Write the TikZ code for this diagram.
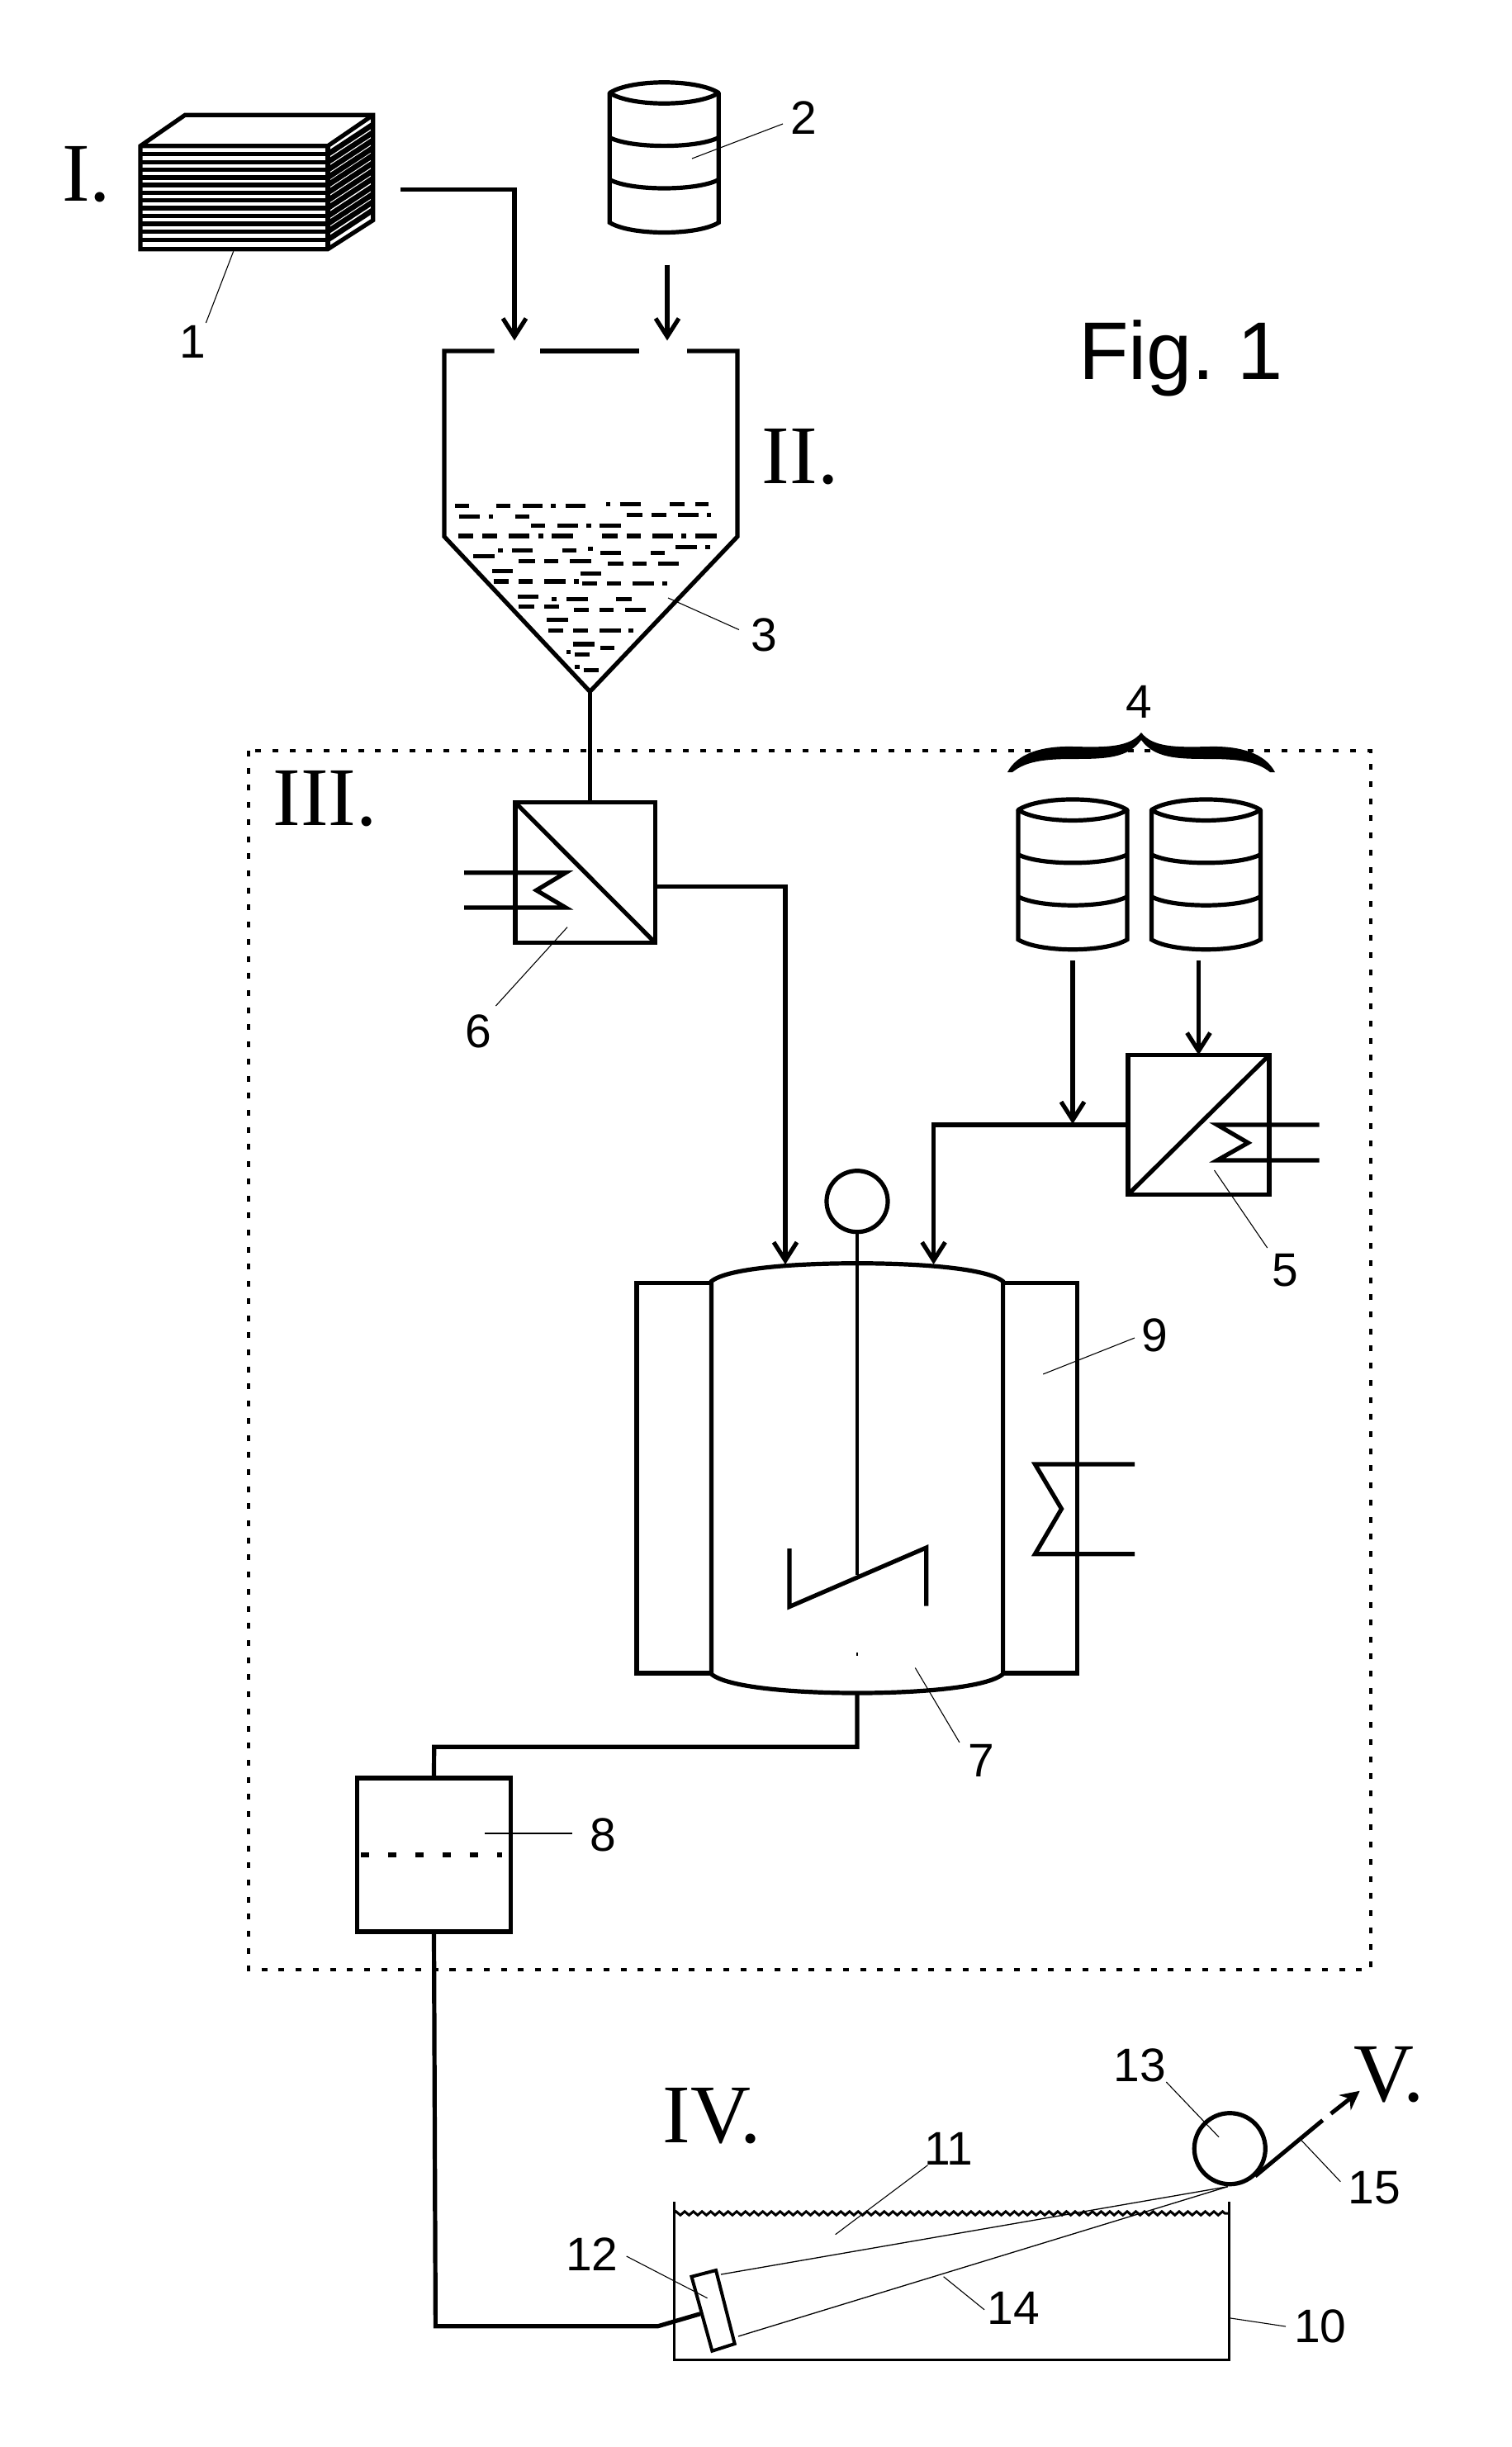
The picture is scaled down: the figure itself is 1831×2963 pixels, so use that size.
\documentclass[tikz,border=0pt]{standalone}
\usepackage{fontspec}
\setmainfont{Liberation Serif}
\setsansfont{Liberation Sans}
\usepackage{tikz}
\usetikzlibrary{arrows.meta}
\usetikzlibrary{decorations.pathmorphing}
\tikzset{
  pipe/.style={line width=0.052cm},
  flow/.style={pipe,-{Straight Barb[length=2.2mm,width=2.8mm]}},
  unitbox/.style={draw,pipe,rectangle,inner sep=0pt,outer sep=0pt},
  leader/.style={line width=0.011cm},
  thinline/.style={line width=0.03cm},
  numtext/.style={font=\sffamily\fontsize{16.2}{18}\selectfont,inner sep=0pt},
  steptext/.style={font=\rmfamily\fontsize{28.7}{30}\selectfont,inner sep=0pt},
  barrel/.pic={
    \draw[pipe,line join=round] (-66,0) .. controls (-40,-17) and (40,-17) .. (66,0) .. controls (40,17) and (-40,17) .. (-66,0) -- cycle;
    \draw[pipe] (-66,0) -- (-66,157) .. controls (-40,173) and (40,173) .. (66,157) -- (66,0);
    \draw[pipe] (-66,54) .. controls (-40,67.5) and (40,67.5) .. (66,54);
    \draw[pipe] (-66,105) .. controls (-40,119) and (40,119) .. (66,105);
  }
}
\begin{document}
\begin{tikzpicture}[x=0.01cm,y=-0.01cm]
\useasboundingbox (0,0) rectangle (1831,2963);

\draw[line width=0.04cm,dash pattern=on 0.07cm off 0.137cm] (301.4,909) rectangle (1660,2385);

% stack
\draw[pipe,line join=miter] (170,176.7) -- (224,139.3) -- (451.7,139.3) -- (451.7,266.7) -- (397,301.7) -- (170,301.7) -- cycle;
\draw[pipe] (170,176.7) -- (397,176.7) -- (451.7,139.3);
\draw[pipe] (397,176.7) -- (397,301.7);
\begin{scope}
\clip (397,176.7) -- (451.7,139.3) -- (451.7,266.7) -- (397,301.7) -- cycle;
\foreach \y in {186.7,196.3,205.7,215,224,233.3,242.7,252,261.7,271,280.3,290.3}
  \draw[line width=0.065cm] (397,\y) -- (451.7,\y-36);
\end{scope}
\foreach \y in {186.7,196.3,205.7,215,224,233.3,242.7,252,261.7,271,280.3,290.3}
  \draw[line width=0.055cm] (170,\y) -- (397,\y);

\pic at (804.3,112.5) {barrel};
\pic at (1299,980.7) {barrel};
\pic at (1460.4,980.7) {barrel};

% hopper
\coordinate (apex) at (714.4,837.4);
\draw[pipe] (598.5,425) -- (538,425) -- (538,649.7) -- (apex) -- (893,649.7) -- (893,425) -- (832,425);
\draw[pipe] (654,425) -- (773.5,425);
\begin{scope}[shift={(60,90)},xscale=0.574,yscale=0.51,line width=0.052cm]
\foreach \yy/\xa/\xb in {
  1024/855/885,1024/942/972,1024/998/1040,1024/1058/1068,1024/1088/1130,
  1020/1175/1183,1020/1203/1247,1020/1308/1340,1020/1362/1390,
  1050/864/908,1050/926/936,1050/982/1012,
  1046/1218/1250,1046/1270/1302,1046/1326/1370,1046/1387/1396,
  1071/1016/1045,1071/1071/1115,1071/1132/1142,1071/1160/1206,
  1096/862/894,1096/913/944,1096/969/1013,1096/1031/1041,1096/1059/1105,
  1096/1166/1198,1096/1218/1248,1096/1272/1316,1096/1333/1343,1096/1362/1408,
  1130/975/1019,1130/946/956,1130/1081/1112,1126/1136/1146,1144/894/939,
  1136/1162/1206,1136/1268/1298,1122/1321/1365,1122/1384/1394,
  1156/990/1024,1156/1044/1074,1156/1098/1142,
  1161/1178/1210,1161/1230/1260,1161/1284/1328,
  1180/934/977,1185/1120/1164,
  1204/937/969,1204/990/1019,1204/1044/1088,1204/1106/1116,
  1209/1124/1155,1209/1176/1206,1209/1230/1276,1209/1293/1303,
  1240/988/1031,1246/1060/1070,1246/1091/1136,1246/1195/1228,
  1264/990/1023,1264/1044/1075,1271/1106/1138,1271/1160/1190,1271/1214/1258,
  1295/1049/1094,1320/1052/1084,1320/1105/1136,1320/1160/1205,1320/1221/1232,
  1353/1104/1150,1361/1162/1192,1371/1091/1100,1377/1108/1139,
  1407/1108/1118,1414/1127/1159}
  \draw (\xa,\yy) -- (\xb,\yy);
\end{scope}

\coordinate (stackout) at (484.8,229.3);
\coordinate (barrelout) at (808,320.6);
\draw[flow] (stackout) -| (623,412.4);
\draw[flow] (barrelout) -- (808,412.4);

% heaters
\node[unitbox,minimum width=1.696cm,minimum height=1.70cm] (unit6) at (708.8,1056.7) {};
\node[unitbox,minimum width=1.71cm,minimum height=1.69cm] (unit5) at (1451.5,1362) {};
\node[unitbox,minimum width=1.856cm,minimum height=1.86cm] (unit8) at (525.5,2246) {};
\draw[pipe] (unit6.north west) -- (unit6.south east);
\draw[pipe] (unit5.south west) -- (unit5.north east);
\draw[pipe] (apex) -- (apex |- unit6.north);
\draw[pipe,line join=miter] (562,1056.7) -- (685,1056.7) -- (649.6,1078) -- (685,1099) -- (562,1099);
\draw[pipe,line join=miter] (1597.5,1362) -- (1474,1362) -- (1511.4,1383.8) -- (1474,1405) -- (1597.5,1405);

\coordinate (feed1) at (1299,1163);
\coordinate (feed2) at (1451.5,1163);
\draw[flow] (feed1) -- (1299,1361);
\draw[flow] (feed2) -- (unit5.north);

% reactor
\coordinate (top6) at (951,1531);
\coordinate (top5) at (1130.6,1531);
\coordinate (bottom) at (1038,2050);
\draw[pipe] (771,1553.7) rectangle (861.4,2026);
\draw[pipe] (1214.6,1553.7) rectangle (1304.7,2026);
\draw[pipe,fill=white] (861.4,1551.6) .. controls (880,1536) and (960,1529.7) .. (1038,1529.7) .. controls (1116,1529.7) and (1196,1536) .. (1214.6,1551.6) -- (1214.6,2027) .. controls (1196,2043) and (1116,2050) .. (bottom) .. controls (960,2050) and (880,2043) .. (861.4,2027) -- cycle;
\draw[flow] ([yshift=-0.166cm]unit6.east) -| (top6);
\draw[flow] (unit5.west) -| (top5);
\node[draw,pipe,circle,inner sep=0pt,minimum size=0.74cm] (motor) at (1038,1454.7) {};
\draw[line width=0.04cm] (motor.south) -- (1038,1907);
\draw[pipe,line join=miter] (956,1875) -- (956,1945.5) -- (1121.7,1874) -- (1121.7,1944.5);
\draw[line width=0.015cm] (1038,2001) -- (1038,2005);
\draw[pipe,line join=miter] (1374,1773) -- (1253.4,1773) -- (1285.5,1827) -- (1253.4,1881.7) -- (1374,1881.7);

% separator
\draw[pipe] (bottom) |- (525.7,2115.3) -- (unit8.north);
\draw[line width=0.06cm,dash pattern=on 0.1cm off 0.23cm] (437,2245.7) -- (608,2245.7);

% bath
\coordinate (nozzlein) at (848,2801.7);
\draw[pipe,line join=miter] (unit8.south) -- (527.4,2816.7) -- (796.8,2816.7) -- (nozzlein);
\draw[thinline] (816,2666) -- (816,2857.7) -- (1488.3,2857.7) -- (1488.3,2666);
\draw[thinline,decorate,decoration={zigzag,segment length=1.05mm,amplitude=0.22mm}] (816,2680) -- (1488.3,2680);
\node[draw,pipe,circle,inner sep=0pt,minimum size=0.86cm] (roll) at (1489.3,2601.7) {};
\coordinate (nip) at (1486.7,2647.7);
\draw[line width=0.013cm] (nip) -- (873,2754);
\draw[line width=0.013cm] (nip) -- (894,2829);
\draw[line width=0.04cm,line join=miter,fill=white] (837.5,2756.7) -- (867,2749) -- (889.7,2838) -- (862.4,2846.7) -- cycle;
\draw[line width=0.05cm] (1520,2635) -- (1601.7,2567.3);
\draw[line width=0.05cm,-{Stealth[length=2.3mm,width=2.3mm]}] (1611.7,2559.3) -- (1646.7,2531.7);

% brace
\fill (1220,935) .. controls (1232,912) and (1262,903) .. (1300,904) .. controls (1340,905) and (1368,905) .. (1382,887) .. controls (1396,905) and (1424,905) .. (1464,904) .. controls (1502,903) and (1532,912) .. (1544,935) -- (1538,935) .. controls (1522,922) and (1500,919) .. (1464,919) .. controls (1425,919) and (1398,918) .. (1382,896) .. controls (1366,918) and (1339,919) .. (1300,919) .. controls (1264,919) and (1242,922) .. (1226,935) -- cycle;

\foreach \num/\x/\y/\ax/\ay/\bx/\by in {
  1/233.4/414/282.7/304.3/249.4/391,
  2/973/143/838/192/948/150,
  3/925/768.6/809/724/895/762.5,
  5/1556.5/1538/1470.5/1417/1534.7/1511,
  6/579.3/1249/687/1122.7/600.4/1218,
  7/1188.7/2131.7/1108.3/2019.5/1161.9/2109.8,
  8/730/2221.7/587.3/2220/692.7/2220,
  9/1398.5/1616.4/1263.2/1663.9/1374/1620,
  10/1598.7/2817/1488.4/2806.7/1557/2817,
  11/1149/2601.7/1123.5/2621.7/1011.6/2705.7,
  12/717/2729.3/758.7/2732/856.6/2782.7,
  13/1380/2500.7/1412.3/2521/1476/2587.7,
  14/1227/2795/1142.6/2756.7/1192/2796.7,
  15/1664/2649.3/1576/2591.7/1623.3/2641.7} {
  \node[numtext] (num\num) at (\x,\y) {\num};
  \coordinate (lead\num a) at (\ax,\ay);
  \coordinate (lead\num b) at (\bx,\by);
  \draw[leader] (lead\num a) -- (lead\num b);
}
\node[numtext] (num4) at (1379.4,849.6) {4};

\node[steptext] (stepI) at (104.8,211.4) {I.};
\node[steptext] (stepII) at (969,553) {II.};
\node[steptext] (stepIII) at (393.6,966.7) {III.};
\node[steptext] (stepIV) at (862,2561.7) {IV.};
\node[steptext] (stepV) at (1681.6,2511.7) {V.};
\node[font=\sffamily\fontsize{28.2}{30}\selectfont\frenchspacing,inner sep=0pt,anchor=base] (figlabel) at (1430,459.3) {Fig. 1};
\end{tikzpicture}
\end{document}
